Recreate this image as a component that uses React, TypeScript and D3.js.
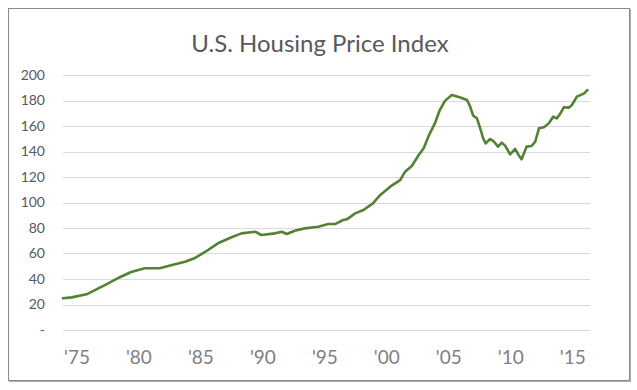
import React from "react";
import * as d3 from "d3";

const years = [
  1975.0, 1975.7, 1976.9, 1977.85, 1978.65, 1979.5, 1980.5, 1981.6, 1982.8, 1983.8,
  1984.85, 1985.65, 1986.46, 1987.5, 1988.6, 1989.4, 1990.5, 1991.0, 1992.1, 1992.65,
  1993.05, 1993.7, 1994.5, 1995.6, 1996.4, 1996.95, 1997.6, 1997.9, 1998.57, 1999.24,
  2000.0, 2000.6, 2001.4, 2002.2, 2002.6, 2003.14, 2003.7, 2004.1, 2004.5, 2005.0,
  2005.4, 2005.83, 2006.37, 2007.0, 2007.6, 2007.85, 2008.1, 2008.4, 2008.66, 2008.9,
  2009.1, 2009.46, 2009.73, 2010.1, 2010.4, 2010.67, 2011.07, 2011.48, 2011.75, 2012.0,
  2012.4, 2012.8, 2013.1, 2013.4, 2013.8, 2014.2, 2014.55, 2014.85, 2015.1, 2015.4,
  2015.8, 2016.06, 2016.46, 2016.87, 2017.05, 2017.3,
];
const values = [
  24.9, 25.6, 28.0, 32.7, 36.6, 41.0, 45.5, 48.4, 48.4, 51.0,
  53.6, 56.5, 61.2, 68.0, 72.7, 75.8, 77.1, 74.5, 75.8, 77.1,
  75.3, 77.9, 79.7, 81.0, 83.1, 83.1, 86.3, 86.8, 91.5, 94.1,
  99.3, 105.9, 112.4, 117.6, 124.2, 128.6, 137.3, 142.5, 152.2, 162.0,
  172.5, 179.9, 184.3, 182.5, 180.4, 175.2, 168.0, 166.0, 158.2, 150.3,
  146.4, 149.8, 148.2, 143.8, 146.9, 144.6, 137.8, 142.0, 137.3, 133.9,
  143.8, 144.3, 147.7, 158.2, 159.0, 162.1, 167.3, 166.0, 169.4, 174.7,
  174.4, 176.5, 183.0, 184.8, 185.6, 188.2,
];
const tickYears = [1975, 1980, 1985, 1990, 1995, 2000, 2005, 2010, 2015];
const tickLabels = ["'75", "'80", "'85", "'90", "'95", "'00", "'05", "'10", "'15"];
const yTicks = [0, 20, 40, 60, 80, 100, 120, 140, 160, 180, 200];
const title = "U.S. Housing Price Index";

export default function App() {
  const W = 637, H = 390;
  const x = d3.scaleLinear().domain([1975, 2017.3]).range([63, 587.3]);
  const y = d3.scaleLinear().domain([0, 200]).range([330, 75]);
  const pts: [number, number][] = years.map((yr, i) => [yr, values[i]]);
  const line = d3.line<[number, number]>()
    .x((d) => x(d[0]))
    .y((d) => y(d[1]))
    .curve(d3.curveLinear);
  const font = "Lato, 'Open Sans', sans-serif";
  return (
    <svg width={W} height={H} style={{ position: "absolute", left: 0, top: 0, background: "#fff" }}>
      <rect x={0} y={0} width={W} height={H} fill="#fff" />
      <rect x={8.5} y={8.5} width={621} height={372} fill="#fff" stroke="#8a8a8a" strokeWidth={1} />
      <line x1={630.5} y1={9} x2={630.5} y2={381.5} stroke="#b0b0b0" strokeWidth={1} />
      <line x1={9} y1={381.5} x2={631} y2={381.5} stroke="#b0b0b0" strokeWidth={1} />
      <text x={320} y={52} textAnchor="middle" fontFamily={font} fontSize={24} fill="#595959">
        {title}
      </text>
      {yTicks.map((t) => (
        <g key={t}>
          <line x1={63} x2={590} y1={Math.round(y(t)) + 0.5} y2={Math.round(y(t)) + 0.5} stroke="#d9d9d9" strokeWidth={1} />
          <text x={45} y={y(t)} dy="0.35em" textAnchor="end" fontFamily={font} fontSize={14} fill="#595959">
            {t === 0 ? "-" : t}
          </text>
        </g>
      ))}
      {tickYears.map((t, i) => (
        <text key={t} x={x(t) + 1} y={364} textAnchor="start" fontFamily={font} fontSize={19} fill="#7f7f7f">
          {tickLabels[i]}
        </text>
      ))}
      <path d={line(pts) || ""} fill="none" stroke="#548235" strokeWidth={2.6} strokeLinejoin="round" strokeLinecap="round" />
    </svg>
  );
}
